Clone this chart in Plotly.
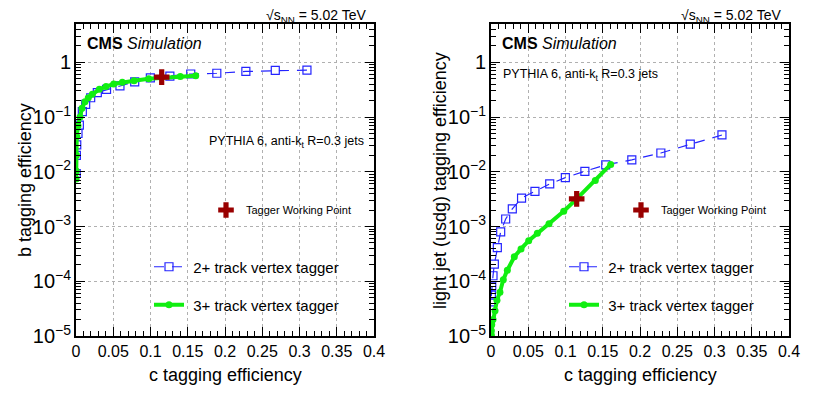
import plotly.graph_objects as go

# c tagging efficiency points (shared by both panels)
c_eff_2trk = [0.31, 0.2675, 0.228, 0.189, 0.154, 0.126, 0.0998, 0.0788, 0.059, 0.041,
              0.0286, 0.0197, 0.013, 0.0085, 0.0045, 0.0027, 0.001, 0.0005, 0.0003]
b_eff_2trk = [0.72, 0.71, 0.68, 0.63, 0.61, 0.56, 0.52, 0.44, 0.37, 0.32,
              0.28, 0.225, 0.17, 0.125, 0.071, 0.05, 0.031, 0.02, 0.0093]
l_eff_2trk = [0.047, 0.032, 0.022, 0.0165, 0.0134, 0.0102, 0.0078, 0.006, 0.0044, 0.0033,
              0.0021, 0.00137, 0.0008, 0.00041, 0.000205, 0.000126, 8.1e-5, 5.6e-5, 4.2e-5]

c_eff_3trk = [0.1607, 0.140, 0.115, 0.0976, 0.0779, 0.0622, 0.0506, 0.0403, 0.0313, 0.0219,
              0.0165, 0.012, 0.008, 0.0054, 0.0027, 0.001, 0.0005, 0.0003, 0.0002]
b_eff_3trk = [0.57, 0.55, 0.53, 0.50, 0.46, 0.43, 0.40, 0.36, 0.32, 0.26,
              0.225, 0.19, 0.144, 0.10, 0.069, 0.044, 0.02, 0.0103, 0.0074]
l_eff_3trk = [0.0136, 0.0069, 0.0032, 0.0019, 0.00112, 0.00075, 0.00055, 0.00039, 0.00028, 0.000159,
              0.000107, 6.3e-5, 4.5e-5, 2.9e-5, 2.0e-5, 1.6e-5, 1.25e-5, 1.05e-5, 1.0e-5]

# working point
wp_c = [0.115]
wp_b = [0.535]
wp_l = [0.0032]

FONT = "Liberation Sans, Arial, Helvetica, sans-serif"
BLUE = "#2424ff"
GREEN = "#11ee11"
DARKRED = "#990000"

# the page body has an 8px margin, so the figure is 16px smaller than the window
W, H, PAD = 814, 383, 8

def px(x):
    return (x - PAD) / W

def py(y):
    return 1 - (y - PAD) / H

fig = go.Figure()

panels = [
    ("x", "y", b_eff_2trk, b_eff_3trk, wp_b, ["legend", "legend2", "legend3"]),
    ("x2", "y2", l_eff_2trk, l_eff_3trk, wp_l, ["legend4", "legend5", "legend6"]),
]
for xa, ya, y2, y3, ywp, legs in panels:
    fig.add_trace(go.Scatter(
        x=c_eff_2trk, y=y2, xaxis=xa, yaxis=ya, mode="lines+markers",
        name="\u00a02+ track vertex tagger", legend=legs[1],
        line=dict(color=BLUE, width=1.2, dash="10px,8px"),
        marker=dict(symbol="square-open", size=8, color=BLUE, line=dict(width=1.2)),
    ))
    fig.add_trace(go.Scatter(
        x=c_eff_3trk, y=y3, xaxis=xa, yaxis=ya, mode="lines+markers",
        name="\u00a03+ track vertex tagger", legend=legs[2],
        line=dict(color=GREEN, width=4),
        marker=dict(symbol="circle", size=7, color=GREEN),
    ))
    fig.add_trace(go.Scatter(
        x=wp_c, y=ywp, xaxis=xa, yaxis=ya, mode="markers",
        name="Tagger Working Point", legend=legs[0],
        marker=dict(symbol="cross", size=13, color=DARKRED),
    ))

xdomL = [px(76), px(374)]
xdomR = [px(491), px(789)]
ydom = [py(336), py(24)]

def xaxis(dom, anchor):
    return dict(
        domain=dom, anchor=anchor, range=[0, 0.4], dtick=0.05, tick0=0,
        automargin=False,
        showline=True, linecolor="black", linewidth=1.5, mirror="allticks",
        ticks="inside", ticklen=9, tickcolor="black",
        minor=dict(dtick=0.01, ticks="inside", ticklen=5, tickcolor="black", showgrid=False),
        showgrid=True, gridcolor="#b0b0b0", griddash="dot", gridwidth=1,
        zeroline=False, tickfont=dict(family=FONT, size=16, color="black"),
    )

def yaxis(anchor):
    return dict(
        domain=ydom, anchor=anchor, type="log", range=[-5, 0.699], dtick=1,
        exponentformat="power", automargin=False,
        showline=True, linecolor="black", linewidth=1.5, mirror="allticks",
        ticks="inside", ticklen=9, tickcolor="black",
        minor=dict(dtick="D1", ticks="inside", ticklen=5, tickcolor="black", showgrid=False),
        showgrid=True, gridcolor="#b0b0b0", griddash="dot", gridwidth=1,
        zeroline=False, tickfont=dict(family=FONT, size=16, color="black"),
    )

def legend(xl, yc, size):
    return dict(x=px(xl), y=py(yc), xanchor="left", yanchor="middle",
                bgcolor="rgba(0,0,0,0)", borderwidth=0, itemwidth=30,
                font=dict(family=FONT, size=size, color="black"),
                itemclick=False, itemdoubleclick=False)

def label(x, y, text, size, xanchor="left", angle=0):
    return dict(x=px(x), y=py(y), xref="paper", yref="paper", xanchor=xanchor,
                yanchor="middle", showarrow=False, text=text, textangle=angle,
                borderpad=0, font=dict(family=FONT, size=size, color="black"))

annotations = []
for off, ytitle in [(0, "b tagging efficiency"), (415, "light jet (usdg) tagging efficiency")]:
    annotations += [
        label(off + 367, 16, "\u221As<sub>NN</sub> = 5.02 TeV", 14),
        label(off + 86, 43, "<b>CMS</b> <i>Simulation</i>", 16),
        label(off + 225, 375, "c tagging efficiency", 18, "center"),
        label(off + 25, 180, ytitle, 18, "center", -90),
    ]
    annotations[-4]["xanchor"] = "right"
annotations += [
    label(365, 142, "PYTHIA 6, anti-k<sub>t</sub> R=0.3 jets", 12.5, "right"),
    label(502, 75, "PYTHIA 6, anti-k<sub>t</sub> R=0.3 jets", 12.5),
]

fig.update_layout(
    width=W, height=H,
    margin=dict(l=0, r=0, t=0, b=0, autoexpand=False),
    paper_bgcolor="white", plot_bgcolor="white",
    showlegend=True,
    xaxis=xaxis(xdomL, "y"), yaxis=yaxis("x"),
    xaxis2=xaxis(xdomR, "y2"), yaxis2=yaxis("x2"),
    legend=legend(206, 210, 11),
    legend2=legend(149, 267, 15),
    legend3=legend(149, 305, 15),
    legend4=legend(621, 210, 11),
    legend5=legend(564, 267, 15),
    legend6=legend(564, 305, 15),
    annotations=annotations,
    font=dict(family=FONT, color="black"),
)

fig.write_html("out.html")
